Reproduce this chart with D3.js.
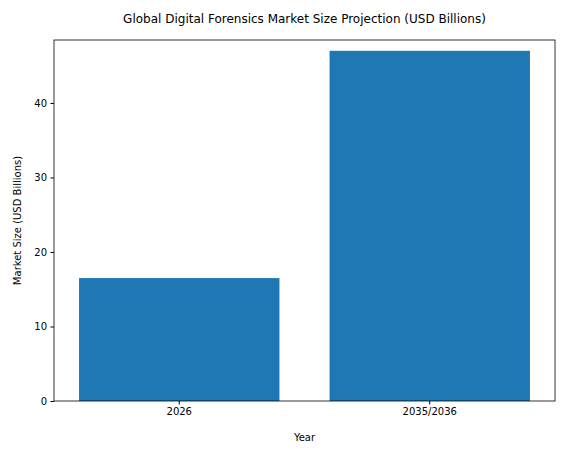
<!DOCTYPE html><html><head><script src="https://cdn.jsdelivr.net/npm/d3@7"></script>
<style>body{margin:0;background:#fff}text{font-family:"DejaVu Sans",sans-serif}</style></head><body>
<script>
const categories=["2026","2035/2036"];
const values=[16.5,47.0];
const yTicks=[0,10,20,30,40];
const W=566,H=455,m={l:54,r:11,t:40,b:54};
const svg=d3.select("body").append("svg").attr("width",W).attr("height",H);
const x=d3.scaleBand().domain(categories).range([m.l,W-m.r]).paddingInner(0.2).paddingOuter(0.1);
const y=d3.scaleLinear().domain([0,48.45]).range([H-m.b,m.t]);
svg.selectAll("rect.b").data(values).join("rect").attr("x",(d,i)=>x(categories[i])).attr("width",x.bandwidth())
 .attr("y",d=>y(d)).attr("height",d=>y(0)-y(d)).attr("fill","#1f77b4");
const gx=svg.append("g").attr("transform",`translate(0,${H-m.b})`).call(d3.axisBottom(x).tickSizeOuter(0).tickSize(3.5).tickPadding(3.5));
const gy=svg.append("g").attr("transform",`translate(${m.l},0)`).call(d3.axisLeft(y).tickValues(yTicks).tickFormat(d3.format("d")).tickSizeOuter(0).tickSize(3.5).tickPadding(3.5));
[gx,gy].forEach(g=>{g.selectAll("text").attr("font-size",10).attr("fill","#000").style("font-family","DejaVu Sans");g.selectAll("line").attr("stroke","#000");g.select(".domain").remove();});
svg.append("rect").attr("x",m.l).attr("y",m.t).attr("width",W-m.r-m.l).attr("height",H-m.b-m.t).attr("fill","none").attr("stroke","#000").attr("stroke-width",0.8);
svg.append("text").attr("x",(m.l+W-m.r)/2).attr("y",23).attr("text-anchor","middle").attr("font-size",12).text("Global Digital Forensics Market Size Projection (USD Billions)");
svg.append("text").attr("x",(m.l+W-m.r)/2).attr("y",441).attr("text-anchor","middle").attr("font-size",10).text("Year");
svg.append("text").attr("transform",`translate(21,${(m.t+H-m.b)/2}) rotate(-90)`).attr("text-anchor","middle").attr("font-size",10).text("Market Size (USD Billions)");
</script></body></html>
